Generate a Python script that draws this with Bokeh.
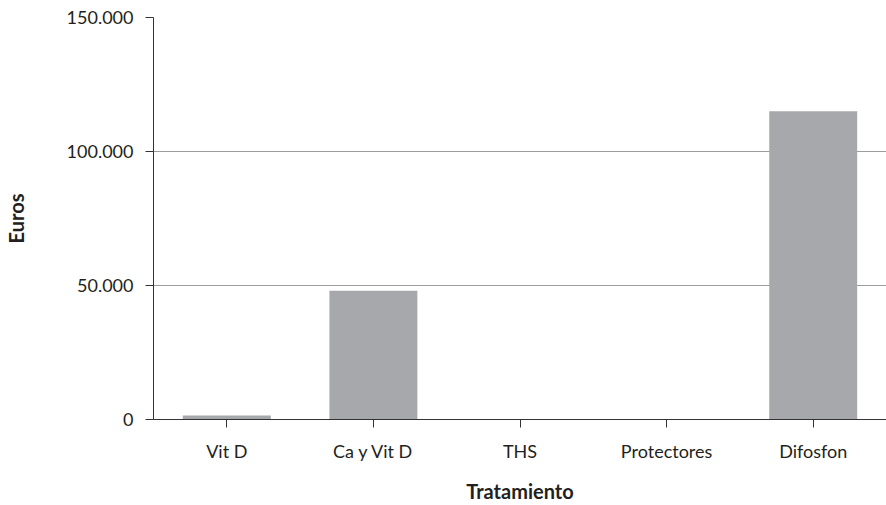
from bokeh.plotting import figure
from bokeh.models import FixedTicker, Range1d
from bokeh.embed import file_html
from bokeh.resources import INLINE

# Coste anual por tratamiento (euros)
categorias = ["Vit D", "Ca y Vit D", "THS", "Protectores", "Difosfon"]
euros = [1500, 48000, 0, 0, 115000]

y_ticks = [0, 50000, 100000, 150000]
y_tick_labels = ["0", "50.000", "100.000", "150.000"]

FONT = "Lato"
TEXT = "#231f20"

p = figure(
    x_range=categorias,
    y_range=Range1d(0, 150000),
    width=886,
    height=505,
    output_backend="svg",
    toolbar_location=None,
    min_border_left=152,
    min_border_right=0,
    min_border_top=17,
    min_border_bottom=86,
)

p.vbar(x=categorias, top=euros, width=0.6, color="#a7a8ab", line_color=None)

p.outline_line_color = None
p.xgrid.grid_line_color = None
p.ygrid.grid_line_color = "#9d9d9d"
p.ygrid.grid_line_width = 1

p.yaxis.ticker = FixedTicker(ticks=y_ticks)
p.yaxis.major_label_overrides = {t: s for t, s in zip(y_ticks, y_tick_labels)}
p.yaxis.minor_tick_line_color = None

for ax in (p.xaxis[0], p.yaxis[0]):
    ax.axis_line_color = "#333333"
    ax.major_tick_line_color = "#333333"
    ax.major_tick_in = 0
    ax.major_tick_out = 8
    ax.major_label_text_font = FONT
    ax.major_label_text_font_size = "18px"
    ax.major_label_text_color = TEXT
    ax.axis_label_text_font = FONT
    ax.axis_label_text_font_size = "20px"
    ax.axis_label_text_font_style = "bold"
    ax.axis_label_text_color = TEXT

p.yaxis.axis_label = "Euros"
p.yaxis.major_label_standoff = 12
p.yaxis.axis_label_standoff = 36

p.xaxis.axis_label = "Tratamiento"
p.xaxis.major_label_standoff = 12
p.xaxis.axis_label_standoff = 14
p.x_range.range_padding = 0

open("out.html", "w").write(file_html(p, INLINE))
